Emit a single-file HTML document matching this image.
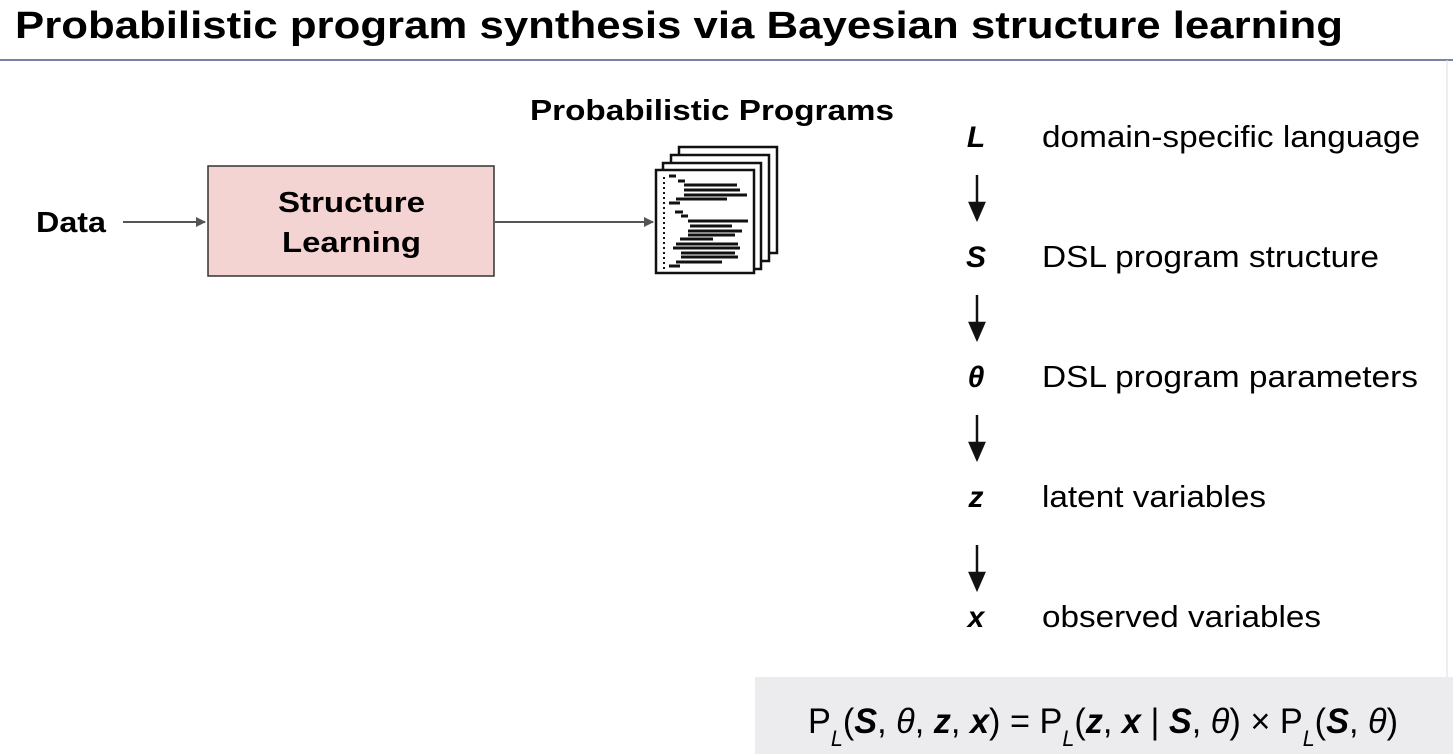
<!DOCTYPE html>
<html><head><meta charset="utf-8"><style>
html,body{margin:0;padding:0;background:#fff;}
svg{display:block;font-family:"Liberation Sans",sans-serif;}
</style></head><body>
<svg width="1453" height="754" viewBox="0 0 1453 754" xmlns="http://www.w3.org/2000/svg">
<defs><marker id="ah" markerWidth="10" markerHeight="10" refX="9" refY="5" orient="auto" markerUnits="userSpaceOnUse"><path d="M0,0 L10,5 L0,10 z" fill="#555"/></marker></defs>
<text x="15" y="38" font-size="38" font-weight="bold" textLength="1328" lengthAdjust="spacingAndGlyphs">Probabilistic program synthesis via Bayesian structure learning</text>
<line x1="0" y1="60" x2="1453" y2="60" stroke="#4a5a8a" stroke-width="1.5"/>
<line x1="1447" y1="60" x2="1447" y2="754" stroke="#ddd" stroke-width="1"/>
<text x="36" y="232" font-size="29" font-weight="bold" textLength="70" lengthAdjust="spacingAndGlyphs">Data</text>
<line x1="123" y1="222" x2="205" y2="222" stroke="#555" stroke-width="2" marker-end="url(#ah)"/>
<rect x="208" y="166" width="286" height="110" fill="#f4d3d3" stroke="#333" stroke-width="1.5"/>
<text x="278" y="212" font-size="29" font-weight="bold" textLength="147" lengthAdjust="spacingAndGlyphs">Structure</text>
<text x="282" y="252" font-size="29" font-weight="bold" textLength="139" lengthAdjust="spacingAndGlyphs">Learning</text>
<line x1="495" y1="222" x2="653" y2="222" stroke="#555" stroke-width="2" marker-end="url(#ah)"/>
<text x="530" y="120" font-size="29" font-weight="bold" textLength="364" lengthAdjust="spacingAndGlyphs">Probabilistic Programs</text>
<g fill="#fff" stroke="#111" stroke-width="2.5">
<rect x="679" y="147" width="98" height="106"/>
<rect x="671" y="155" width="98" height="106"/>
<rect x="663" y="163" width="98" height="106"/>
<rect x="656" y="170" width="98" height="103"/>
</g>
<g stroke="#111" stroke-width="3">
<line x1="664" y1="177" x2="664" y2="270" stroke-dasharray="2,3" stroke-width="2"/>
<line x1="669" y1="176" x2="676" y2="176"/><line x1="678" y1="181" x2="685" y2="181"/>
<line x1="684" y1="185" x2="737" y2="185"/><line x1="684" y1="190" x2="740" y2="190"/>
<line x1="684" y1="195" x2="747" y2="195"/><line x1="676" y1="199" x2="727" y2="199"/>
<line x1="669" y1="203" x2="680" y2="203"/><line x1="675" y1="212" x2="683" y2="212"/>
<line x1="681" y1="216" x2="688" y2="216"/><line x1="688" y1="221" x2="748" y2="221"/>
<line x1="690" y1="226" x2="732" y2="226"/><line x1="688" y1="231" x2="742" y2="231"/>
<line x1="688" y1="235" x2="735" y2="235"/><line x1="680" y1="239" x2="713" y2="239"/>
<line x1="676" y1="244" x2="738" y2="244"/><line x1="673" y1="248" x2="740" y2="248"/>
<line x1="681" y1="253" x2="735" y2="253"/><line x1="681" y1="257" x2="738" y2="257"/>
<line x1="676" y1="262" x2="722" y2="262"/><line x1="669" y1="266" x2="680" y2="266"/>
</g>
<g font-size="30" font-style="italic" font-weight="bold" text-anchor="middle">
<text x="976" y="147">L</text><text x="976" y="267">S</text>
<text x="976" y="387">θ</text><text x="976" y="507">z</text><text x="976" y="627">x</text>
</g>
<g font-size="31" lengthAdjust="spacingAndGlyphs">
<text x="1042" y="147" textLength="378" lengthAdjust="spacingAndGlyphs">domain-specific language</text>
<text x="1042" y="267" textLength="337" lengthAdjust="spacingAndGlyphs">DSL program structure</text>
<text x="1042" y="387" textLength="376" lengthAdjust="spacingAndGlyphs">DSL program parameters</text>
<text x="1042" y="507" textLength="224" lengthAdjust="spacingAndGlyphs">latent variables</text>
<text x="1042" y="627" textLength="279" lengthAdjust="spacingAndGlyphs">observed variables</text>
</g>
<g stroke="#111" stroke-width="2.5" fill="#111">
<line x1="977" y1="175" x2="977" y2="207"/><path d="M970,203 L984,203 L977,219 z"/>
<line x1="977" y1="295" x2="977" y2="327"/><path d="M970,323 L984,323 L977,339 z"/>
<line x1="977" y1="415" x2="977" y2="447"/><path d="M970,443 L984,443 L977,459 z"/>
<line x1="977" y1="545" x2="977" y2="577"/><path d="M970,573 L984,573 L977,589 z"/>
</g>
<rect x="755" y="677" width="698" height="77" fill="#ececee"/>
<text x="808" y="733" font-size="35" textLength="590" lengthAdjust="spacingAndGlyphs">P<tspan font-size="22" font-style="italic" dy="13">L</tspan><tspan dy="-13">(</tspan><tspan font-weight="bold" font-style="italic">S</tspan>, <tspan font-style="italic">θ</tspan>, <tspan font-weight="bold" font-style="italic">z</tspan>, <tspan font-weight="bold" font-style="italic">x</tspan>) = P<tspan font-size="22" font-style="italic" dy="13">L</tspan><tspan dy="-13">(</tspan><tspan font-weight="bold" font-style="italic">z</tspan>, <tspan font-weight="bold" font-style="italic">x</tspan> | <tspan font-weight="bold" font-style="italic">S</tspan>, <tspan font-style="italic">θ</tspan>) × P<tspan font-size="22" font-style="italic" dy="13">L</tspan><tspan dy="-13">(</tspan><tspan font-weight="bold" font-style="italic">S</tspan>, <tspan font-style="italic">θ</tspan>)</text>
</svg>
</body></html>
